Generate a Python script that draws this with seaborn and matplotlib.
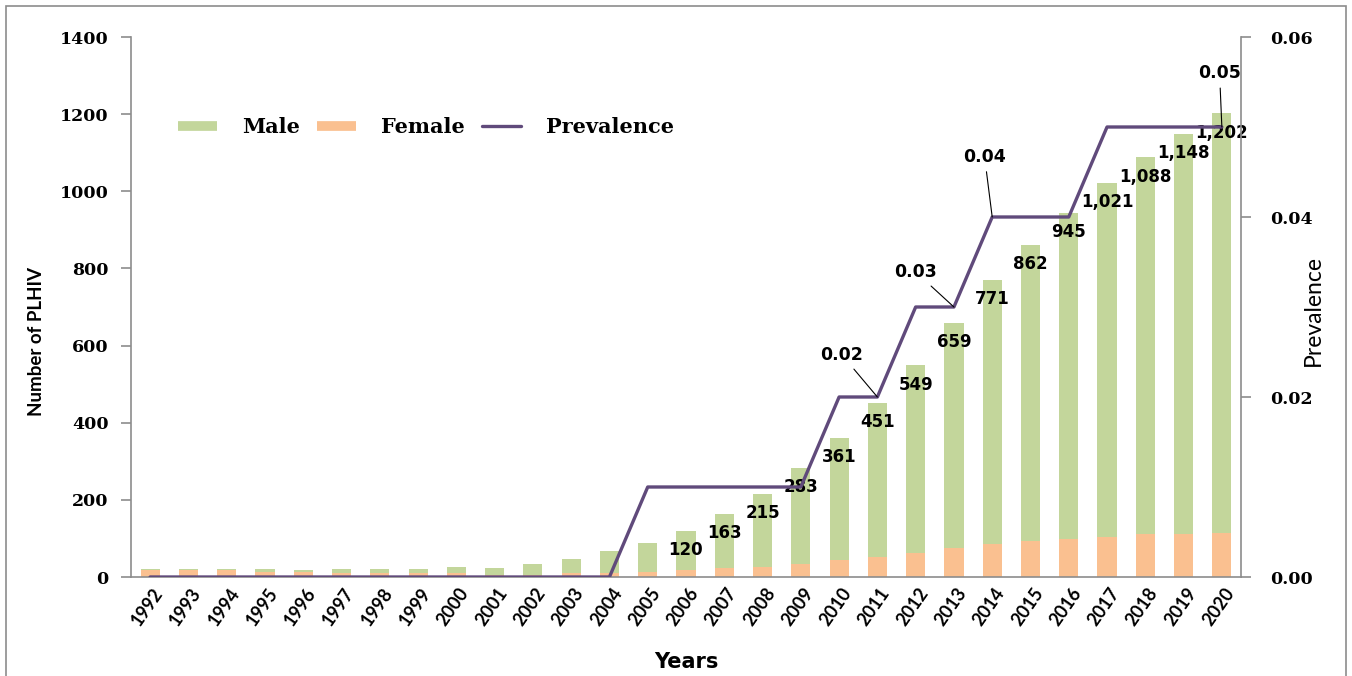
import matplotlib
matplotlib.use("Agg")
import matplotlib.pyplot as plt
import matplotlib.transforms as mtransforms
from matplotlib.lines import Line2D
from matplotlib.patches import Rectangle
import numpy as np
import seaborn as sns

sns.set_style("white")
plt.rcParams['font.family'] = ['DejaVu Sans']
plt.rcParams['text.color'] = 'black'
plt.rcParams['xtick.labelcolor'] = 'black'
plt.rcParams['ytick.labelcolor'] = 'black'

# data
years = [str(y) for y in range(1992, 2021)]
female = [17, 17, 17, 14, 13, 10, 10, 10, 10, 5, 5, 11, 11,
          14, 17, 23, 27, 33, 43, 53, 63, 76, 85, 94, 99, 105, 111, 111, 115]
male = [3, 3, 3, 6, 4, 10, 10, 10, 17, 18, 29, 35, 56,
        75, 103, 140, 188, 250, 318, 398, 486, 583, 686, 768, 846, 916, 977, 1037, 1087]
prevalence = [0, 0, 0, 0, 0, 0, 0, 0, 0, 0, 0, 0, 0,
              0.01, 0.01, 0.01, 0.01, 0.01, 0.02, 0.02, 0.03, 0.03, 0.04, 0.04, 0.04,
              0.05, 0.05, 0.05, 0.05]
total = [m + f for m, f in zip(male, female)]
first_labelled = 2006
# prevalence labels: index -> (text x, text y)
prev_labels = {19: (18.07, 0.0247), 21: (20.0, 0.0339), 22: (21.8, 0.0467), 28: (27.94, 0.056)}

green = "#C3D69B"
orange = "#FAC090"
purple = "#604A7B"
grey = "#8C8C8C"

fig = plt.figure(figsize=(13.52, 6.76), dpi=100)
ax = fig.add_axes([131 / 1352, 1 - 577 / 676, 1110 / 1352, 540 / 676])

sns.barplot(x=years, y=total, color=green, saturation=1, width=0.5, linewidth=0, ax=ax)
sns.barplot(x=years, y=female, color=orange, saturation=1, width=0.5, linewidth=0, ax=ax)
ax.set_xlim(-0.5, len(years) - 0.5)
ax.set_ylim(0, 1400)
ax.set_yticks(range(0, 1401, 200))

ax2 = ax.twinx()
sns.lineplot(x=np.arange(len(years)), y=prevalence, color=purple, linewidth=2.4, ax=ax2)
ax2.set_ylim(0, 0.06)
ax2.set_yticks([0, 0.02, 0.04, 0.06])
ax2.set_yticklabels(["0.00", "0.02", "0.04", "0.06"])

# spines / ticks
for a in (ax, ax2):
    a.spines['top'].set_visible(False)
    for s in ('left', 'right', 'bottom'):
        a.spines[s].set_color(grey)
        a.spines[s].set_linewidth(1.2)
ax.spines['right'].set_visible(False)
ax2.spines['left'].set_visible(False)
ax2.spines['bottom'].set_visible(False)

ytick_font = dict(family='DejaVu Serif', weight='bold', size=12.5)
ax.tick_params(axis='y', direction='out', length=7, color=grey, width=1.2, pad=9)
ax2.tick_params(axis='y', direction='out', length=7, color=grey, width=1.2, pad=14)
for lab in ax.get_yticklabels() + ax2.get_yticklabels():
    lab.set_fontproperties(ytick_font)

ax.set_xticks(np.arange(-0.5, len(years), 1), minor=True)
ax.tick_params(axis='x', which='minor', direction='out', length=7, color=grey, width=1.2)
ax.tick_params(axis='x', which='major', length=0, pad=9)
ax.set_xticks(np.arange(len(years)))
ax.set_xticklabels(years, rotation=55, ha='right', va='center', rotation_mode='anchor',
                   family='Lato', weight='bold', size=13)
offset = mtransforms.ScaledTranslation(9 / 100, 0, fig.dpi_scale_trans)
for lab in ax.get_xticklabels():
    lab.set_transform(lab.get_transform() + offset)

ax.set_xlabel("")
ax2.set_xlabel("")
fig.text(686 / 1352, 1 - 662 / 676, "Years", ha='center', va='center',
         weight='bold', size=15)
fig.text(37 / 1352, 1 - 341 / 676, "Number of PLHIV", rotation=90, ha='center', va='center',
         family='Lato', weight='bold', size=13.5)
fig.text(1313 / 1352, 1 - 310 / 676, "Prevalence", rotation=90, ha='center', va='center',
         family='Lato', size=16.5)

# total labels
for i, (yr, t) in enumerate(zip(years, total)):
    if int(yr) >= first_labelled:
        ax.text(i, t - 50, f"{t:,}", ha='center', va='center', weight='bold', size=12)

# prevalence labels with leader lines
for i, (tx, ty) in prev_labels.items():
    ax2.annotate(f"{prevalence[i]:.2f}", xy=(i, prevalence[i]), xytext=(tx, ty),
                 ha='center', va='center', weight='bold', size=12.5,
                 arrowprops=dict(arrowstyle='-', color='black', lw=0.8,
                                 shrinkA=2, shrinkB=0))

handles = [Line2D([], [], color=green, lw=7, solid_capstyle='butt'),
           Line2D([], [], color=orange, lw=7, solid_capstyle='butt'),
           Line2D([], [], color=purple, lw=2.4)]
leg = ax.legend(handles, ["Male", "Female", "Prevalence"], ncol=3, frameon=False,
                loc='center left', bbox_to_anchor=(0.025, 0.833), handlelength=1.9,
                handletextpad=1.2, columnspacing=0.8,
                prop=dict(family='DejaVu Serif', weight='bold', size=15))

fig.patches.append(Rectangle((6 / 1352, -0.01), 1340 / 1352, 1 - 6 / 676 + 0.01,
                             transform=fig.transFigure, fill=False, edgecolor=grey, lw=1.2))

fig.savefig("out.png", dpi=100)
plt.close(fig)
